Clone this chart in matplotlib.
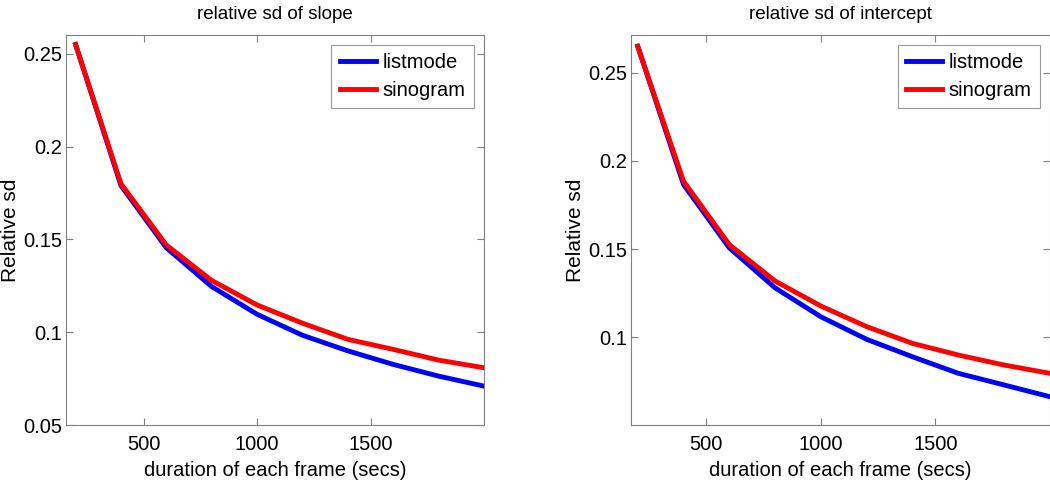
import matplotlib
matplotlib.use("Agg")
import matplotlib.pyplot as plt

plt.rcParams["font.family"] = ["Liberation Sans", "DejaVu Sans"]

# frame durations (secs)
durations = [200, 400, 600, 800, 1000, 1200, 1400, 1600, 1800, 2000]

# relative sd of slope
slope_listmode = [0.255, 0.179, 0.1455, 0.1246, 0.1097, 0.0984, 0.0900, 0.0827, 0.0764, 0.0710]
slope_sinogram = [0.255, 0.180, 0.1470, 0.1279, 0.1147, 0.1049, 0.0962, 0.0908, 0.0850, 0.0809]

# relative sd of intercept
icpt_listmode = [0.2651, 0.1866, 0.1506, 0.1279, 0.1115, 0.0987, 0.0888, 0.0794, 0.0728, 0.0661]
icpt_sinogram = [0.2651, 0.1885, 0.1525, 0.1318, 0.1176, 0.1059, 0.0964, 0.0898, 0.0841, 0.0794]

AXIS_GRAY = "#808080"

fig = plt.figure(figsize=(10.5, 4.82), dpi=100)
ax1 = fig.add_axes([0.0629, 0.118, 0.398, 0.809])
ax2 = fig.add_axes([0.601, 0.118, 0.399, 0.809])


def style_axes(ax, title, xlim, ylim, yticks):
    ax.set_xlim(*xlim)
    ax.set_ylim(*ylim)
    ax.set_xticks([500, 1000, 1500])
    ax.set_yticks(yticks)
    ax.set_yticklabels([f"{t:g}" for t in yticks])
    ax.tick_params(direction="in", top=True, right=True, length=5,
                   width=0.8, color=AXIS_GRAY, labelsize=14.5)
    ax.tick_params(axis="y", pad=3)
    ax.tick_params(axis="x", pad=7)
    for spine in ax.spines.values():
        spine.set_color(AXIS_GRAY)
        spine.set_linewidth(0.8)
    ax.set_title(title, fontsize=13.5, pad=12)
    ax.set_xlabel("duration of each frame (secs)", fontsize=14.5, labelpad=5)
    ax.set_ylabel("Relative sd", fontsize=15, labelpad=2)
    leg = ax.legend(loc="upper right", fontsize=14.5, fancybox=False,
                    handlelength=1.8, borderaxespad=0.5, labelspacing=0.45,
                    handletextpad=0.35, borderpad=0.4)
    leg.get_frame().set_edgecolor(AXIS_GRAY)
    leg.get_frame().set_linewidth(0.8)


ax1.plot(durations, slope_listmode, color="#0000ff", linewidth=3.5, label="listmode")
ax1.plot(durations, slope_sinogram, color="#ff0000", linewidth=3.5, label="sinogram")
style_axes(ax1, "relative sd of slope", (158, 2000), (0.05, 0.26),
           [0.05, 0.1, 0.15, 0.2, 0.25])

ax2.plot(durations, icpt_listmode, color="#0000ff", linewidth=3.5, label="listmode")
ax2.plot(durations, icpt_sinogram, color="#ff0000", linewidth=3.5, label="sinogram")
style_axes(ax2, "relative sd of intercept", (171, 2000), (0.05, 0.2714),
           [0.1, 0.15, 0.2, 0.25])

fig.savefig("out.png", dpi=100, facecolor="white")
